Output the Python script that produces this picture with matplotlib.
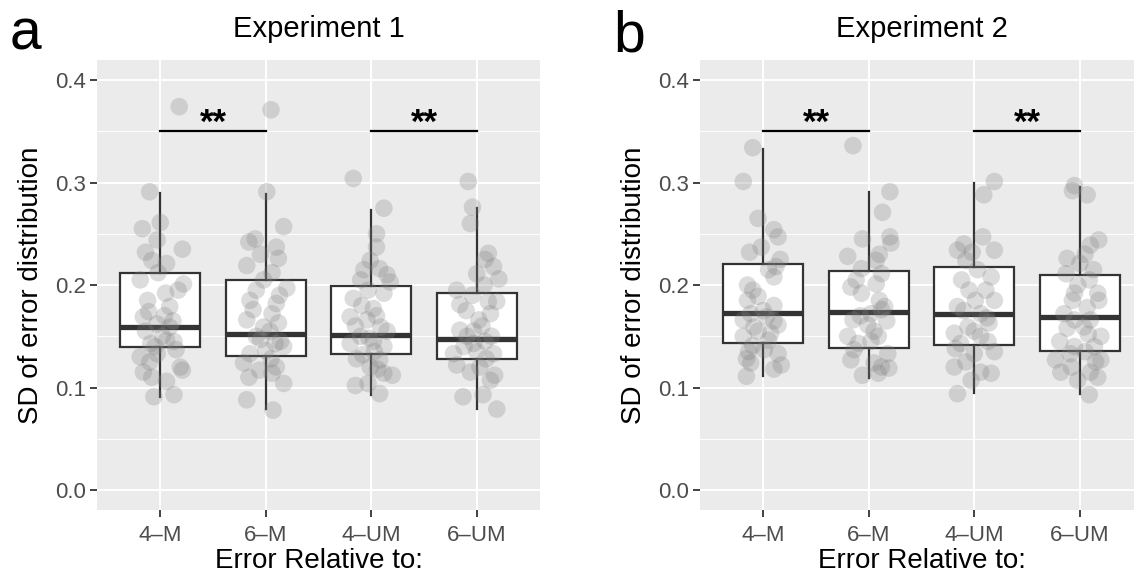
import numpy as np
import matplotlib.pyplot as plt

plt.rcParams['font.family'] = ['Liberation Sans', 'DejaVu Sans']

groups = ['4\u2013M', '6\u2013M', '4\u2013UM', '6\u2013UM']
titles = ['Experiment 1', 'Experiment 2']
letters = ['a', 'b']

# box stats: [whisker low, q1, median, q3, whisker high]
exp1_box = [[0.0904, 0.1398, 0.1593, 0.2114, 0.2900],
            [0.0787, 0.1307, 0.1519, 0.2049, 0.2888],
            [0.0927, 0.1327, 0.1510, 0.1990, 0.2732],
            [0.0787, 0.1278, 0.1470, 0.1919, 0.2755]]
exp2_box = [[0.1112, 0.1437, 0.1730, 0.2205, 0.3330],
            [0.1096, 0.1382, 0.1737, 0.2136, 0.2904],
            [0.0950, 0.1415, 0.1717, 0.2179, 0.2998],
            [0.0937, 0.1359, 0.1691, 0.2097, 0.2959]]

# individual SD values per condition
exp1_4m = [0.374, 0.291, 0.255, 0.261, 0.235, 0.244, 0.224, 0.221, 0.205, 0.201,
           0.195, 0.192, 0.179, 0.174, 0.169, 0.162, 0.159, 0.146, 0.145, 0.143,
           0.130, 0.133, 0.115, 0.120, 0.117, 0.110, 0.106, 0.091, 0.093,
           0.185, 0.165, 0.155, 0.150, 0.140, 0.137, 0.125, 0.212, 0.232, 0.170]
exp1_6m = [0.371, 0.291, 0.257, 0.242, 0.245, 0.237, 0.226, 0.219, 0.212, 0.197,
           0.195, 0.185, 0.182, 0.172, 0.166, 0.159, 0.150, 0.143, 0.140, 0.133,
           0.136, 0.124, 0.120, 0.114, 0.110, 0.104, 0.088, 0.078,
           0.176, 0.163, 0.155, 0.147, 0.128, 0.205, 0.230, 0.190, 0.117, 0.145]
exp1_4um = [0.304, 0.275, 0.250, 0.237, 0.224, 0.215, 0.216, 0.205, 0.203, 0.192,
            0.187, 0.177, 0.169, 0.166, 0.159, 0.150, 0.145, 0.143, 0.140, 0.128,
            0.127, 0.120, 0.114, 0.112, 0.102, 0.104, 0.094,
            0.180, 0.170, 0.155, 0.148, 0.135, 0.132, 0.195, 0.210, 0.118, 0.160]
exp1_6um = [0.301, 0.276, 0.260, 0.231, 0.218, 0.211, 0.206, 0.195, 0.181, 0.184,
            0.184, 0.166, 0.172, 0.156, 0.150, 0.143, 0.145, 0.133, 0.133, 0.135,
            0.122, 0.115, 0.107, 0.112, 0.091, 0.093, 0.079,
            0.200, 0.190, 0.175, 0.160, 0.150, 0.140, 0.128, 0.225, 0.120, 0.155]
exp2_4m = [0.334, 0.301, 0.265, 0.254, 0.247, 0.232, 0.237, 0.218, 0.208, 0.195,
           0.189, 0.185, 0.180, 0.169, 0.166, 0.161, 0.159, 0.153, 0.150, 0.141,
           0.137, 0.133, 0.128, 0.122, 0.124, 0.111,
           0.215, 0.200, 0.175, 0.172, 0.165, 0.155, 0.146, 0.135, 0.225, 0.118]
exp2_6m = [0.336, 0.291, 0.271, 0.247, 0.245, 0.241, 0.228, 0.224, 0.216, 0.211,
           0.198, 0.201, 0.192, 0.179, 0.172, 0.166, 0.161, 0.150, 0.150, 0.143,
           0.133, 0.127, 0.124, 0.119, 0.112, 0.114,
           0.205, 0.185, 0.176, 0.170, 0.155, 0.145, 0.137, 0.120, 0.230, 0.165]
exp2_4um = [0.301, 0.288, 0.247, 0.234, 0.234, 0.224, 0.232, 0.208, 0.195, 0.195,
            0.185, 0.179, 0.172, 0.163, 0.159, 0.153, 0.150, 0.143, 0.135, 0.133,
            0.120, 0.115, 0.114, 0.107, 0.094,
            0.215, 0.205, 0.185, 0.175, 0.168, 0.155, 0.145, 0.125, 0.240, 0.138]
exp2_6um = [0.297, 0.288, 0.292, 0.244, 0.239, 0.226, 0.221, 0.211, 0.205, 0.192,
            0.192, 0.185, 0.185, 0.166, 0.166, 0.159, 0.150, 0.145, 0.140, 0.140,
            0.127, 0.133, 0.127, 0.115, 0.115, 0.110, 0.107, 0.093,
            0.215, 0.200, 0.178, 0.172, 0.158, 0.152, 0.135, 0.120, 0.230, 0.125]

# horizontal jitter of each point
jit1_4m = [0.18, -0.10, -0.17, 0.00, 0.21, -0.03, -0.08, 0.06, -0.19, 0.22,
           0.17, 0.05, 0.09, -0.11, -0.16, -0.03, 0.09, 0.06, 0.13, -0.09,
           -0.19, -0.03, -0.16, 0.19, 0.21, -0.08, 0.06, -0.06, 0.13,
           -0.12, 0.12, -0.14, 0.02, -0.05, 0.15, -0.10, -0.02, -0.14, 0.04]
jit1_6m = [0.05, 0.01, 0.17, -0.16, -0.10, 0.10, 0.12, -0.18, 0.06, 0.20,
           -0.09, -0.15, 0.10, 0.06, -0.18, -0.02, -0.09, 0.09, 0.17, -0.15,
           0.00, -0.21, 0.10, 0.06, -0.16, 0.17, -0.18, 0.07,
           -0.12, 0.12, 0.04, -0.05, 0.05, -0.02, -0.05, 0.13, -0.06, 0.14]
jit1_4um = [-0.17, 0.12, 0.05, 0.05, -0.01, -0.07, 0.08, -0.10, 0.18, 0.12,
            -0.17, 0.02, -0.20, -0.04, 0.09, -0.10, 0.02, -0.20, 0.12, -0.14,
            0.08, -0.01, 0.12, 0.20, -0.15, -0.03, 0.08,
            -0.09, 0.05, 0.15, -0.02, 0.03, -0.08, -0.03, 0.15, 0.06, -0.15]
jit1_6um = [-0.08, -0.04, -0.06, 0.11, 0.16, 0.00, 0.21, -0.19, -0.16, 0.11,
            0.19, 0.02, 0.13, -0.16, -0.09, -0.03, 0.08, -0.22, 0.16, 0.00,
            -0.19, -0.06, 0.13, 0.17, -0.13, 0.06, 0.19,
            0.07, -0.04, -0.10, 0.05, 0.14, -0.12, 0.09, 0.08, 0.03, -0.03]
jit2_4m = [-0.10, -0.19, -0.05, 0.10, 0.14, -0.13, -0.02, 0.12, 0.10, -0.10,
           -0.05, -0.15, 0.10, 0.03, -0.19, 0.14, -0.09, 0.07, -0.19, -0.10,
           0.01, 0.14, -0.16, 0.17, -0.12, -0.16,
           0.05, -0.15, 0.00, -0.12, 0.10, -0.05, 0.05, -0.14, 0.16, 0.10]
jit2_6m = [-0.15, 0.20, 0.13, 0.20, -0.06, 0.21, -0.20, 0.07, -0.07, 0.12,
           -0.17, 0.07, -0.07, 0.15, 0.02, -0.15, -0.01, -0.20, 0.09, -0.10,
           0.18, -0.17, 0.05, 0.19, -0.06, 0.09,
           -0.12, 0.10, 0.12, -0.08, 0.05, 0.02, -0.14, 0.12, 0.10, 0.17]
jit2_4um = [0.19, 0.09, 0.08, 0.19, -0.16, -0.08, -0.02, 0.16, -0.05, 0.11,
            0.19, -0.16, 0.06, 0.14, -0.06, -0.19, 0.06, -0.13, 0.19, 0.00,
            -0.19, 0.06, 0.16, -0.03, -0.16,
            0.03, -0.12, 0.01, -0.10, 0.12, 0.00, 0.13, -0.08, -0.10, -0.18]
jit2_6um = [-0.05, 0.07, -0.07, 0.18, 0.10, -0.12, 0.00, -0.13, 0.09, -0.05,
            0.17, -0.07, 0.18, -0.05, 0.10, 0.04, 0.20, -0.19, 0.14, -0.05,
            -0.23, -0.09, 0.20, -0.18, 0.10, 0.17, -0.02, 0.09,
            0.13, -0.02, 0.07, -0.15, -0.12, 0.08, 0.05, -0.08, 0.05, 0.15]

exp1_pts = [exp1_4m, exp1_6m, exp1_4um, exp1_6um]
exp2_pts = [exp2_4m, exp2_6m, exp2_4um, exp2_6um]
exp1_jit = [jit1_4m, jit1_6m, jit1_4um, jit1_6um]
exp2_jit = [jit2_4m, jit2_6m, jit2_4um, jit2_6um]

sig_pairs = [(1, 2), (3, 4)]
sig_y = 0.35
sig_text = '**'

fig = plt.figure(figsize=(11.34, 5.75), dpi=100)
ax1 = fig.add_axes([0.0855, 0.1130, 0.3907, 0.7826])
ax2 = fig.add_axes([0.6173, 0.1130, 0.3907, 0.7826])

for ax, box, pts, jit in [(ax1, exp1_box, exp1_pts, exp1_jit),
                          (ax2, exp2_box, exp2_pts, exp2_jit)]:
    ax.set_facecolor('#EBEBEB')
    for s in ax.spines.values():
        s.set_visible(False)
    ax.set_xlim(0.4, 4.6)
    ax.set_ylim(-0.0195, 0.4195)
    ax.set_yticks([0.0, 0.1, 0.2, 0.3, 0.4])
    ax.set_yticks([0.05, 0.15, 0.25, 0.35], minor=True)
    ax.set_xticks([1, 2, 3, 4])
    ax.set_xticklabels(groups)
    ax.grid(True, which='major', color='white', lw=1.4, zorder=0)
    ax.grid(True, which='minor', axis='y', color='white', lw=0.7, zorder=0)
    ax.set_axisbelow(True)
    ax.tick_params(axis='both', which='major', labelsize=16, labelcolor='#4D4D4D',
                   color='#333333', length=5, width=1.3)
    ax.tick_params(axis='y', which='minor', length=0)
    ax.tick_params(axis='x', pad=6)
    ax.tick_params(axis='y', pad=3)

    stats = []
    for b in box:
        stats.append({'whislo': b[0], 'q1': b[1], 'med': b[2], 'q3': b[3],
                      'whishi': b[4], 'fliers': []})
    ax.bxp(stats, positions=[1, 2, 3, 4], widths=0.76, showfliers=False,
           showcaps=False, patch_artist=True, manage_ticks=False,
           boxprops=dict(facecolor='white', edgecolor='#333333', lw=1.6),
           whiskerprops=dict(color='#333333', lw=1.6),
           medianprops=dict(color='#333333', lw=3.8, solid_capstyle='butt'),
           zorder=2)

    for i in range(4):
        xs = [i + 1 + d for d in jit[i]]
        ax.scatter(xs, pts[i], s=160, color='#808080', alpha=0.27,
                   edgecolors='none', zorder=3)

    for a, b in sig_pairs:
        ax.plot([a, b], [sig_y, sig_y], color='black', lw=1.6, zorder=4)
        ax.text((a + b) / 2, sig_y - 0.002, sig_text, ha='center', va='baseline',
                fontsize=25, fontweight='bold', color='black', zorder=4)

ax1.set_ylabel('SD of error distribution', fontsize=20, labelpad=8)
ax2.set_ylabel('SD of error distribution', fontsize=20, labelpad=8)

for ax, t, l in [(ax1, titles[0], letters[0]), (ax2, titles[1], letters[1])]:
    pos = ax.get_position()
    cx = (pos.x0 + pos.x1) / 2
    fig.text(cx, 1 - 29 / 575, t, ha='center', va='center', fontsize=21)
    fig.text(cx, 1 - 561 / 575, 'Error Relative to:', ha='center', va='center',
             fontsize=20)

fig.text(10 / 1134, 1 - 50 / 575, letters[0], ha='left', va='baseline', fontsize=41)
fig.text(613 / 1134, 1 - 52 / 575, letters[1], ha='left', va='baseline', fontsize=41)

fig.savefig('out.png', dpi=100)
